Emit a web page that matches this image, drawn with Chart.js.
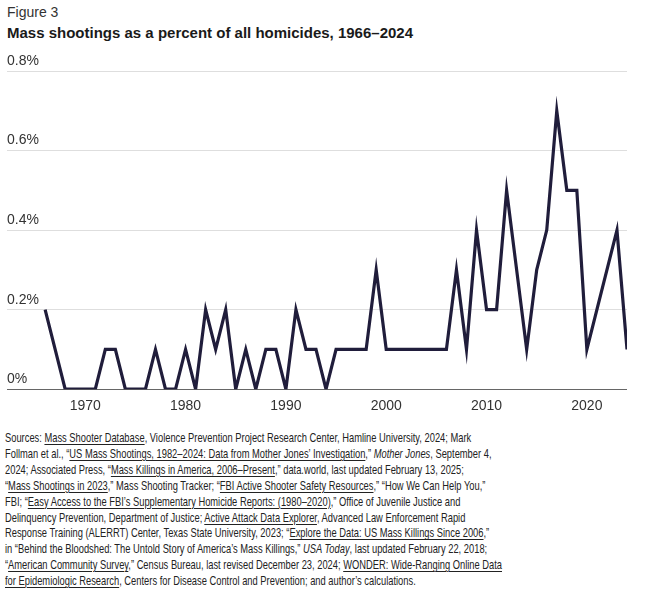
<!DOCTYPE html>
<html>
<head>
<meta charset="utf-8">
<script src="https://cdn.jsdelivr.net/npm/chart.js@4.4.1/dist/chart.umd.min.js"></script>
<style>
  body { margin: 0; background: #fff; width: 655px; height: 599px; overflow: hidden; position: relative; font-family: "Liberation Sans", Arial, sans-serif; color: #222; }
  #fig { position: absolute; left: 7px; top: 4px; font-size: 14px; color: #333; }
  #title { position: absolute; left: 7px; top: 24px; font-size: 15px; font-weight: bold; color: #1a1a1a; }
  #wrap { position: absolute; left: 0; top: 40px; width: 655px; height: 376px; }
  #src { position: absolute; left: 5px; top: 430px; font-family: "Liberation Sans Narrow", "Liberation Sans", Arial, sans-serif; font-size: 13.5px; line-height: 15.9px; color: #222; transform-origin: 0 0; white-space: nowrap; }
  #src u { text-decoration-thickness: 1px; text-underline-offset: 2px; }
</style>
</head>
<body>
<div id="fig">Figure 3</div>
<div id="title">Mass shootings as a percent of all homicides, 1966–2024</div>
<div id="wrap"><canvas id="chart"></canvas></div>
<div id="src">
<div>Sources: <u>Mass Shooter Database</u>, Violence Prevention Project Research Center, Hamline University, 2024; Mark</div>
<div id="longest">Follman et al., “<u>US Mass Shootings, 1982–2024: Data from Mother Jones’ Investigation</u>,” <i>Mother Jones</i>, September 4,</div>
<div>2024; Associated Press, “<u>Mass Killings in America, 2006–Present</u>,” data.world, last updated February 13, 2025;</div>
<div>“<u>Mass Shootings in 2023</u>,” Mass Shooting Tracker; “<u>FBI Active Shooter Safety Resources</u>,” “How We Can Help You,”</div>
<div>FBI; “<u>Easy Access to the FBI’s Supplementary Homicide Reports: (1980–2020)</u>,” Office of Juvenile Justice and</div>
<div>Delinquency Prevention, Department of Justice; <u>Active Attack Data Explorer</u>, Advanced Law Enforcement Rapid</div>
<div>Response Training (ALERRT) Center, Texas State University, 2023; “<u>Explore the Data: US Mass Killings Since 2006</u>,”</div>
<div>in “Behind the Bloodshed: The Untold Story of America’s Mass Killings,” <i>USA Today</i>, last updated February 22, 2018;</div>
<div>“<u>American Community Survey</u>,” Census Bureau, last revised December 23, 2024; <u>WONDER: Wide-Ranging Online Data</u></div>
<div><u>for Epidemiologic Research</u>, Centers for Disease Control and Prevention; and author’s calculations.</div>
</div>
<script>
// years on the x axis
var years = [];
for (var y = 1966; y <= 2024; y++) years.push(y);

// mass shootings as percent of all homicides
var shareValues = [
  0.2, 0.1, 0, 0, 0, 0, 0.1, 0.1, 0, 0,       // 1966-1975
  0, 0.1, 0, 0, 0.1, 0, 0.2, 0.1, 0.2, 0,     // 1976-1985
  0.1, 0, 0.1, 0.1, 0, 0.2, 0.1, 0.1, 0, 0.1, // 1986-1995
  0.1, 0.1, 0.1, 0.3, 0.1, 0.1, 0.1, 0.1, 0.1, 0.1, // 1996-2005
  0.1, 0.3, 0.1, 0.4, 0.2, 0.2, 0.5, 0.3, 0.1, 0.3, // 2006-2015
  0.4, 0.7, 0.5, 0.5, 0.1, 0.2, 0.3, 0.4, 0.1      // 2016-2024
];

var xTicks = [1970, 1980, 1990, 2000, 2010, 2020];
var yTicks = [0, 0.2, 0.4, 0.6, 0.8];

var points = years.map(function(yr, i) { return { x: yr, y: shareValues[i] }; });

// fit source block to the original wrap width
var src = document.getElementById('src');
var w = document.getElementById('longest').getBoundingClientRect().width;
src.style.transform = 'scaleX(' + (497 / w) + ')';

var canvas = document.getElementById('chart');
new Chart(canvas, {
  type: 'line',
  data: {
    datasets: [{
      data: points,
      borderColor: '#201d3b',
      borderWidth: 3.2,
      pointRadius: 0,
      fill: false,
      tension: 0,
      borderJoinStyle: 'miter'
    }]
  },
  options: {
    responsive: true,
    maintainAspectRatio: false,
    animation: false,
    layout: { padding: { left: 7, right: 28, top: 31, bottom: 0 } },
    plugins: { legend: { display: false }, tooltip: { enabled: false } },
    scales: {
      x: {
        type: 'linear',
        min: 1962.2,
        max: 2024,
        afterBuildTicks: function(scale) {
          scale.ticks = xTicks.map(function(v) { return { value: v }; });
        },
        grid: { display: false },
        border: { display: false },
        ticks: {
          color: '#333',
          font: { family: 'Liberation Sans', size: 14 },
          padding: 1,
          maxRotation: 0,
          callback: function(v) { return String(v); }
        }
      },
      y: {
        min: 0,
        max: 0.8,
        afterBuildTicks: function(scale) {
          scale.ticks = yTicks.map(function(v) { return { value: v }; });
        },
        border: { display: false },
        grid: {
          drawTicks: false,
          color: function(ctx) { return ctx.tick && ctx.tick.value === 0 ? '#666' : '#dedede'; },
          lineWidth: 1
        },
        ticks: {
          mirror: true,
          padding: 0,
          labelOffset: -10,
          color: '#333',
          font: { family: 'Liberation Sans', size: 14 },
          callback: function(v) { return (Math.round(v * 10) / 10) + '%'; }
        }
      }
    }
  }
});
</script>
</body>
</html>
